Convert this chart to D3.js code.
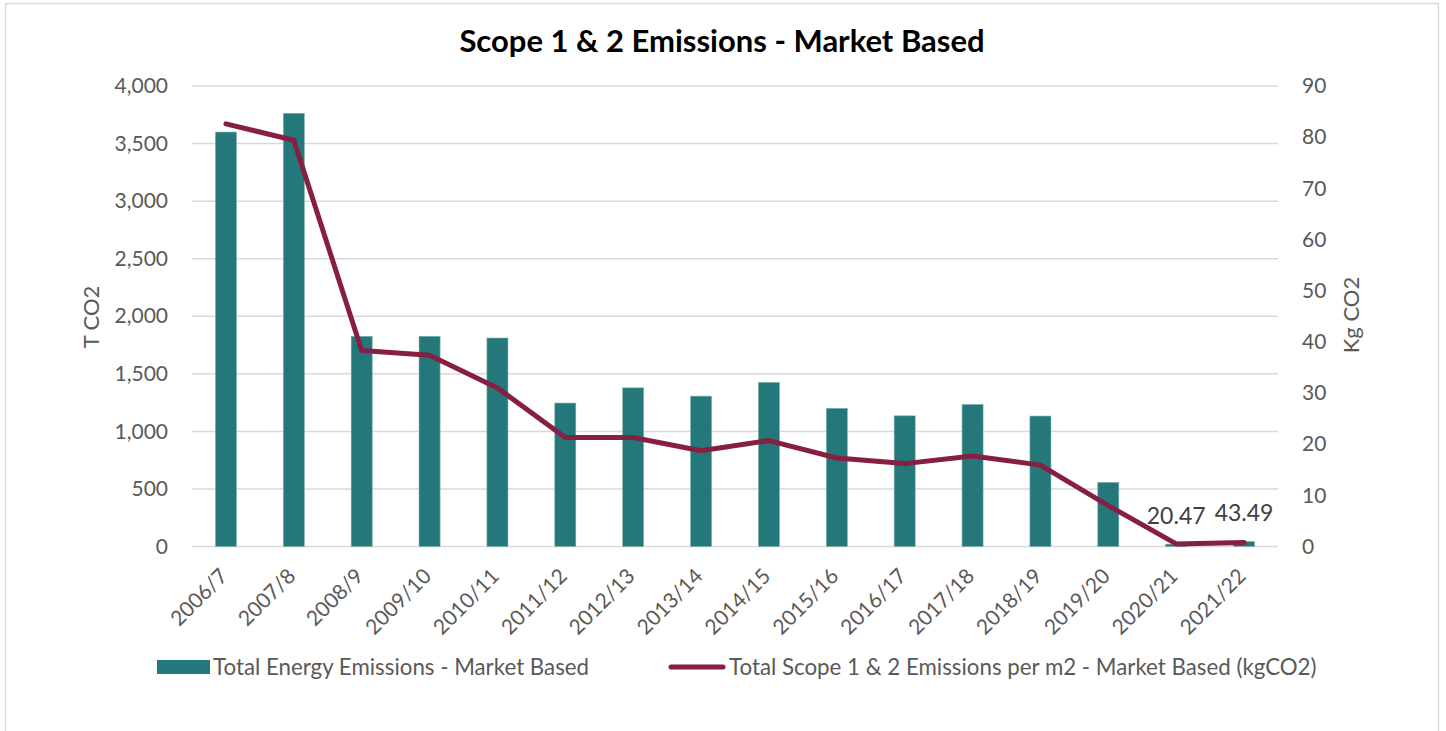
<!DOCTYPE html>
<html>
<head>
<meta charset="utf-8">
<script src="https://cdn.jsdelivr.net/npm/d3@7"></script>
<style>
  body { margin: 0; background: #fff; }
  text { font-family: Lato, "Open Sans", sans-serif; }
</style>
</head>
<body>
<script>
// categories and values
var years = ["2006/7", "2007/8", "2008/9", "2009/10", "2010/11", "2011/12", "2012/13", "2013/14",
             "2014/15", "2015/16", "2016/17", "2017/18", "2018/19", "2019/20", "2020/21", "2021/22"];
// Total Energy Emissions - Market Based (T CO2)
var totalEmissions = [3600, 3763, 1826, 1826, 1811, 1246, 1378, 1306, 1425, 1200, 1135, 1234, 1133, 557, 20.47, 43.49];
// Total Scope 1 & 2 Emissions per m2 (kg CO2)
var perM2 = [82.6, 79.4, 38.3, 37.4, 31.0, 21.3, 21.3, 18.7, 20.7, 17.3, 16.2, 17.7, 15.9, 8.0, 0.5, 0.8];
// bars that carry a data label
var labelled = ["2020/21", "2021/22"];
var leftTicks = [0, 500, 1000, 1500, 2000, 2500, 3000, 3500, 4000];
var rightTicks = [0, 10, 20, 30, 40, 50, 60, 70, 80, 90];

var W = 1446, H = 731;
var barColor = "#25787a";
var lineColor = "#861f41";
var textColor = "#595959";

var svg = d3.select("body").append("svg")
  .attr("width", W)
  .attr("height", H);

// chart border
svg.append("rect")
  .attr("x", 5.5).attr("y", 3.5)
  .attr("width", 1433).attr("height", 740)
  .attr("fill", "#fff")
  .attr("stroke", "#d9d9d9")
  .attr("stroke-width", 1.5);

var plotLeft = 192, plotRight = 1278, plotTop = 86, plotBottom = 546.5;

var x = d3.scaleBand().domain(years).range([plotLeft, plotRight]).paddingInner(0).paddingOuter(0);
var yL = d3.scaleLinear().domain([0, 4000]).range([plotBottom, plotTop]);
var yR = d3.scaleLinear().domain([0, 90]).range([plotBottom, plotTop]);

// gridlines
svg.append("g")
  .selectAll("line")
  .data(leftTicks)
  .enter().append("line")
  .attr("x1", plotLeft).attr("x2", plotRight)
  .attr("y1", function(d) { return yL(d); })
  .attr("y2", function(d) { return yL(d); })
  .attr("stroke", "#d9d9d9")
  .attr("stroke-width", 1.5);

// left axis
var axisL = svg.append("g")
  .attr("transform", "translate(" + plotLeft + ",0)")
  .call(d3.axisLeft(yL).tickValues(leftTicks).tickFormat(d3.format(",")).tickSize(0).tickPadding(24));
axisL.select(".domain").remove();
axisL.selectAll("text")
  .style("font-size", "21px")
  .attr("fill", textColor);

// right axis
var axisR = svg.append("g")
  .attr("transform", "translate(" + plotRight + ",0)")
  .call(d3.axisRight(yR).tickValues(rightTicks).tickSize(0).tickPadding(24));
axisR.select(".domain").remove();
axisR.selectAll("text")
  .style("font-size", "21px")
  .attr("fill", textColor);

// x axis
var axisX = svg.append("g")
  .attr("transform", "translate(0," + plotBottom + ")")
  .call(d3.axisBottom(x).tickSize(0).tickPadding(0));
axisX.select(".domain").remove();
axisX.selectAll("text")
  .style("font-size", "21px")
  .attr("fill", textColor)
  .attr("text-anchor", "end")
  .attr("dy", null)
  .attr("y", null)
  .attr("transform", "translate(3,31) rotate(-45)");

// axis titles
svg.append("text")
  .attr("transform", "translate(99,317) rotate(-90)")
  .attr("text-anchor", "middle")
  .style("font-size", "22px")
  .attr("fill", textColor)
  .text("T CO2");

svg.append("text")
  .attr("transform", "translate(1359,315) rotate(-90)")
  .attr("text-anchor", "middle")
  .style("font-size", "22px")
  .attr("fill", textColor)
  .text("Kg CO2");

// bars
var bw = x.bandwidth() * 0.31;
svg.append("g")
  .selectAll("rect")
  .data(years)
  .enter().append("rect")
  .attr("x", function(d) { return x(d) + x.bandwidth() / 2 - bw / 2; })
  .attr("y", function(d, i) { return yL(totalEmissions[i]); })
  .attr("width", bw)
  .attr("height", function(d, i) { return plotBottom - yL(totalEmissions[i]); })
  .attr("fill", barColor)
  .attr("stroke", "#7fb0b0")
  .attr("stroke-width", 0.6);

// data labels
svg.append("g")
  .selectAll("text")
  .data(years.filter(function(d) { return labelled.indexOf(d) >= 0; }))
  .enter().append("text")
  .attr("x", function(d) { return x(d) + x.bandwidth() / 2; })
  .attr("y", function(d) { return yL(totalEmissions[years.indexOf(d)]) - 20; })
  .attr("text-anchor", "middle")
  .style("font-size", "23px")
  .attr("fill", "#404040")
  .text(function(d) { return totalEmissions[years.indexOf(d)].toFixed(2); });

// line
var line = d3.line()
  .x(function(d, i) { return x(years[i]) + x.bandwidth() / 2; })
  .y(function(d) { return yR(d); });

svg.append("path")
  .datum(perM2)
  .attr("d", line)
  .attr("fill", "none")
  .attr("stroke", lineColor)
  .attr("stroke-width", 5)
  .attr("stroke-linejoin", "round")
  .attr("stroke-linecap", "round");

// title
svg.append("text")
  .attr("x", 722)
  .attr("y", 52)
  .attr("text-anchor", "middle")
  .style("font-size", "31px")
  .style("font-weight", "bold")
  .attr("fill", "#000")
  .text("Scope 1 & 2 Emissions - Market Based");

// legend
var legend = svg.append("g");
legend.append("rect")
  .attr("x", 157).attr("y", 660)
  .attr("width", 53).attr("height", 14)
  .attr("fill", barColor);
legend.append("text")
  .attr("x", 213).attr("y", 667)
  .attr("dy", "0.35em")
  .style("font-size", "22.3px")
  .attr("fill", textColor)
  .text("Total Energy Emissions - Market Based");
legend.append("line")
  .attr("x1", 671).attr("x2", 723)
  .attr("y1", 667).attr("y2", 667)
  .attr("stroke", lineColor)
  .attr("stroke-width", 5)
  .attr("stroke-linecap", "round");
legend.append("text")
  .attr("x", 729).attr("y", 667)
  .attr("dy", "0.35em")
  .style("font-size", "22.3px")
  .attr("fill", textColor)
  .text("Total Scope 1 & 2 Emissions per m2 - Market Based (kgCO2)");
</script>
</body>
</html>
